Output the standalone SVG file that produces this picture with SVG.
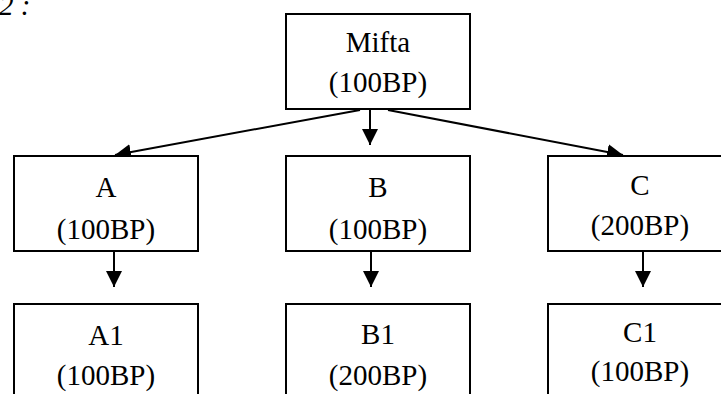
<svg xmlns="http://www.w3.org/2000/svg" width="721" height="394" viewBox="0 0 721 394">
  <style>
    .box { fill: #ffffff; stroke: #000000; stroke-width: 2; }
    .lbl { font-family: "Liberation Serif", "Times New Roman", serif; font-size: 29px; fill: #000000; text-anchor: middle; }
    .edge { stroke: #000000; stroke-width: 2; fill: none; marker-end: url(#head); }
  </style>
  <defs>
    <marker id="head" markerUnits="userSpaceOnUse" markerWidth="18" markerHeight="18" refX="16" refY="8" orient="auto">
      <path d="M0,0 L16,8 L0,16 Z" fill="#000000"/>
    </marker>
  </defs>
  <rect width="721" height="394" fill="#ffffff"/>

  <text x="-1" y="15" font-family="Liberation Serif, serif" font-style="italic" font-size="29">2 :</text>

  <g id="connectors">
    <line class="edge" x1="370" y1="109" x2="370" y2="145"/>
    <line class="edge" x1="360" y1="110" x2="115" y2="155"/>
    <line class="edge" x1="388" y1="110" x2="623" y2="155"/>
    <line class="edge" x1="114" y1="251" x2="114" y2="287"/>
    <line class="edge" x1="371" y1="251" x2="371" y2="287"/>
    <line class="edge" x1="643" y1="251" x2="643" y2="287"/>
  </g>

  <g id="mifta">
    <rect class="box" x="286" y="14" width="184" height="95"/>
    <text class="lbl" x="378" y="52">Mifta</text>
    <text class="lbl" x="378" y="92">(100BP)</text>
  </g>

  <g id="a">
    <rect class="box" x="14" y="156" width="184" height="95"/>
    <text class="lbl" x="106" y="197">A</text>
    <text class="lbl" x="106" y="239">(100BP)</text>
  </g>
  <g id="b">
    <rect class="box" x="286" y="156" width="184" height="95"/>
    <text class="lbl" x="378" y="197">B</text>
    <text class="lbl" x="378" y="239">(100BP)</text>
  </g>
  <g id="c">
    <rect class="box" x="548" y="156" width="184" height="95"/>
    <text class="lbl" x="640" y="195" font-size="28">C</text>
    <text class="lbl" x="640" y="235" font-size="28">(200BP)</text>
  </g>

  <g id="a1">
    <rect class="box" x="14" y="304" width="184" height="110"/>
    <text class="lbl" x="106" y="345">A1</text>
    <text class="lbl" x="106" y="385">(100BP)</text>
  </g>
  <g id="b1">
    <rect class="box" x="286" y="304" width="184" height="110"/>
    <text class="lbl" x="378" y="344">B1</text>
    <text class="lbl" x="378" y="385">(200BP)</text>
  </g>
  <g id="c1">
    <rect class="box" x="548" y="304" width="184" height="110"/>
    <text class="lbl" x="640" y="342" font-size="28">C1</text>
    <text class="lbl" x="640" y="381" font-size="28">(100BP)</text>
  </g>
</svg>
